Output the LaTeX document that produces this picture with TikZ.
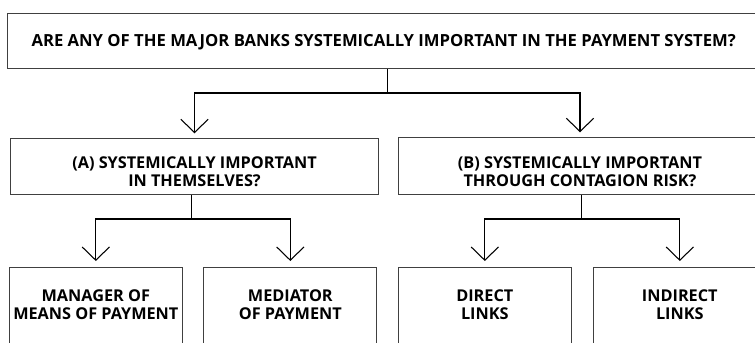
\documentclass[tikz,border=0pt]{standalone}
\usepackage{fontspec}
\setmainfont{Open Sans}
\usetikzlibrary{arrows.meta}
\tikzstyle{question} = [rectangle, draw=black!75, line width=0.8pt, align=center, anchor=north, inner sep=0pt, font=\bfseries\fontsize{12.2}{13.5}\selectfont]
\tikzstyle{answer}   = [question, minimum width=129.75pt, text height=38.8pt, text depth=18.2pt]
\tikzstyle{line} = [draw, line width=0.8pt]
\tikzstyle{flow} = [line, -{Straight Barb[length=10pt,width=20.5pt]}, shorten >=3.75pt]

\begin{document}
\begin{tikzpicture}[x=0.75pt, y=-0.75pt]
            \clip (0,0) rectangle (755,342);
            \node[question, minimum width=564.5pt, minimum height=41.5pt, text depth=0pt, font=\bfseries\fontsize{12.5}{13.5}\selectfont] (banks) at (383.7,12.7) {ARE ANY OF THE MAJOR BANKS SYSTEMICALLY IMPORTANT IN THE PAYMENT SYSTEM?};
            \node[question, minimum width=275.7pt, text height=35.55pt, text depth=6.2pt] (itself) at (194.5,138.3) {(A) SYSTEMICALLY IMPORTANT\\IN THEMSELVES?};
            \node[question, minimum width=272.55pt, text height=36.3pt, text depth=6.2pt] (contagion) at (580,137.3) {(B) SYSTEMICALLY IMPORTANT\\THROUGH CONTAGION RISK?};
            \node[answer] (manager)  at (95.8,267)  {MANAGER OF\\MEANS OF PAYMENT};
            \node[answer] (mediator) at (290.3,267) {MEDIATOR\\OF PAYMENT};
            \node[answer] (direct)   at (484.8,267) {DIRECT\\LINKS};
            \node[answer] (indirect) at (679.8,267) {INDIRECT\\LINKS};
            \coordinate (forktop) at (387.7,93);
            \coordinate (forka) at (191.7,219);
            \coordinate (forkb) at (581.7,219);

            \path [line] (banks.south -| forktop) -- (forktop);
            \path [flow] (forktop) -| (itself.north);
            \path [flow] (forktop) -| (contagion.north);
            \path [line] (itself.south -| forka) -- (forka);
            \path [flow, shorten >=4.5pt] (forka) -| (manager.north);
            \path [flow, shorten >=4.5pt] (forka) -| (mediator.north);
            \path [line] (contagion.south -| forkb) -- (forkb);
            \path [flow, shorten >=4.5pt] (forkb) -| (direct.north);
            \path [flow, shorten >=4.5pt] (forkb) -| (indirect.north);
        \end{tikzpicture}
\end{document}
